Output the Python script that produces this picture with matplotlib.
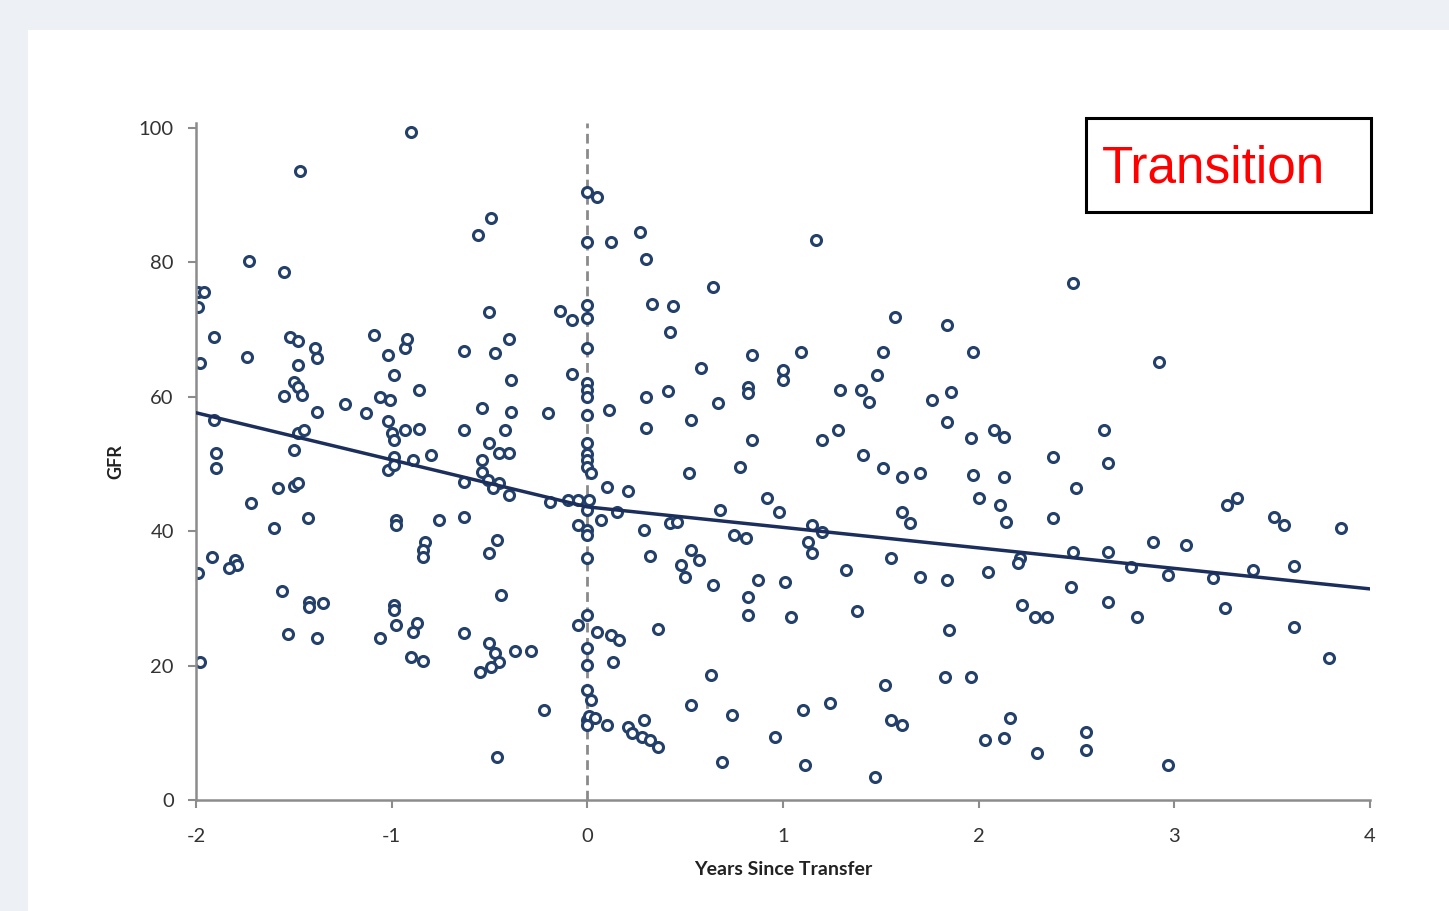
import matplotlib
matplotlib.use("Agg")
import matplotlib.pyplot as plt
from matplotlib.patches import Rectangle

# GFR readings vs years since transfer
years = [
    # before transfer, -2 .. -1
    -0.90, -1.47, -1.73, -1.55, -1.99, -1.96, -1.99, -1.91, -1.98, -1.74,
    -1.52, -1.48, -1.39, -1.38, -1.48, -1.50, -1.48, -1.46, -1.55, -1.38,
    -1.24, -1.13, -1.09, -1.02, -0.93, -0.92, -0.99, -1.06, -1.01, -0.86,
    -1.91, -1.48, -1.45, -1.02, -1.00, -0.99, -0.93, -0.86, -1.90, -1.90,
    -1.50, -1.58, -1.50, -1.48, -1.72, -1.43, -1.60, -1.92, -1.80, -1.79,
    -1.83, -1.99, -1.56, -1.42, -1.42, -1.35, -1.53, -1.38, -1.98, -0.99,
    -1.02, -0.99, -0.89, -0.80, -0.98, -0.98, -0.76, -0.83, -0.84, -0.84,
    -0.99, -0.99, -0.98, -0.87, -0.89, -1.06, -0.90, -0.84,
    # before transfer, -1 .. 0
    -0.49, -0.56, -0.50, -0.14, -0.08, -0.63, -0.47, -0.40, -0.08, -0.39,
    -0.20, -0.54, -0.39, -0.63, -0.42, -0.50, -0.54, -0.45, -0.40, -0.54,
    -0.51, -0.45, -0.48, -0.40, -0.63, -0.19, -0.10, -0.05, -0.05, -0.63,
    -0.46, -0.50, -0.44, -0.63, -0.50, -0.47, -0.45, -0.49, -0.55, -0.37,
    -0.29, -0.05, -0.22, -0.46,
    # at transfer
    0.00, 0.05, 0.00, 0.00, 0.00, 0.00, 0.00, 0.00, 0.00, 0.00,
    0.00, 0.00, 0.00, 0.00, 0.02, 0.01, 0.00, 0.00, 0.00, 0.00,
    0.00, 0.00, 0.00, 0.00, 0.02, 0.00, 0.01, 0.04, 0.00,
    # after transfer, 0 .. 1
    0.12, 0.27, 0.30, 0.64, 0.33, 0.44, 0.42, 0.84, 0.58, 0.82,
    0.82, 0.30, 0.41, 0.67, 0.53, 0.11, 0.30, 0.84, 0.10, 0.21,
    0.52, 0.78, 0.92, 0.07, 0.15, 0.29, 0.42, 0.46, 0.68, 0.75,
    0.81, 0.32, 0.53, 0.57, 0.48, 0.50, 0.64, 0.87, 0.82, 0.82,
    0.05, 0.12, 0.16, 0.13, 0.36, 0.63, 0.10, 0.21, 0.23, 0.29,
    0.28, 0.32, 0.36, 0.53, 0.74, 0.69, 0.98,
    # after transfer, 1 .. 2
    1.17, 1.57, 1.84, 1.09, 1.51, 1.97, 1.00, 1.00, 1.48, 1.29,
    1.40, 1.44, 1.76, 1.86, 1.84, 1.28, 1.20, 1.96, 1.41, 1.51,
    1.61, 1.70, 1.97, 1.15, 1.20, 1.13, 1.15, 1.61, 1.65, 2.00,
    1.55, 1.01, 1.32, 1.70, 1.84, 1.04, 1.38, 1.85, 1.83, 1.96,
    1.52, 1.24, 1.10, 1.55, 1.61, 0.96, 1.11, 1.47,
    # after transfer, 2 .. 4
    2.48, 2.08, 2.13, 2.13, 2.38, 2.50, 2.64, 2.66, 2.11, 2.14,
    2.38, 2.21, 2.20, 2.48, 2.66, 2.05, 2.47, 2.66, 2.22, 2.29,
    2.35, 2.16, 2.03, 2.13, 2.30, 2.55, 2.55, 2.92, 3.27, 3.32,
    3.51, 3.56, 3.85, 2.89, 3.06, 2.78, 2.97, 3.20, 3.40, 3.61,
    2.81, 3.26, 3.61, 3.79, 2.97,
]

gfr = [
    99.3, 93.5, 80.1, 78.6, 75.5, 75.6, 73.4, 68.9, 65.0, 65.9,
    68.8, 68.2, 67.3, 65.8, 64.7, 62.2, 61.5, 60.3, 60.1, 57.7,
    58.9, 57.6, 69.2, 66.2, 67.3, 68.5, 63.2, 60.0, 59.5, 61.0,
    56.5, 54.6, 55.1, 56.3, 54.6, 53.6, 55.1, 55.2, 51.6, 49.4,
    52.1, 46.4, 46.7, 47.2, 44.2, 42.0, 40.5, 36.2, 35.7, 35.0,
    34.5, 33.8, 31.1, 29.5, 28.7, 29.3, 24.7, 24.1, 20.5, 51.0,
    49.1, 49.9, 50.6, 51.3, 41.7, 40.9, 41.7, 38.4, 37.2, 36.2,
    29.0, 28.3, 26.0, 26.3, 25.0, 24.1, 21.3, 20.7,
    86.6, 84.1, 72.6, 72.8, 71.4, 66.8, 66.5, 68.6, 63.4, 62.4,
    57.6, 58.3, 57.7, 55.0, 55.1, 53.1, 50.6, 51.6, 51.6, 48.8,
    47.6, 47.2, 46.4, 45.4, 47.3, 44.3, 44.6, 44.6, 40.9, 42.1,
    38.7, 36.7, 30.5, 24.8, 23.4, 21.9, 20.5, 19.8, 19.0, 22.2,
    22.2, 26.0, 13.4, 6.4,
    90.5, 89.7, 83.0, 73.7, 71.7, 67.3, 62.0, 61.0, 60.0, 57.3,
    53.1, 51.5, 50.5, 49.6, 48.7, 44.6, 43.2, 40.2, 39.4, 36.0,
    27.5, 22.6, 20.1, 16.4, 14.9, 11.9, 12.5, 12.2, 11.2,
    83.0, 84.5, 80.4, 76.3, 73.8, 73.5, 69.6, 66.2, 64.3, 61.5,
    60.6, 60.0, 60.9, 59.1, 56.5, 58.0, 55.4, 53.6, 46.6, 46.0,
    48.6, 49.6, 44.9, 41.7, 42.9, 40.2, 41.2, 41.4, 43.2, 39.4,
    39.0, 36.3, 37.2, 35.7, 35.0, 33.2, 32.0, 32.7, 30.2, 27.5,
    25.0, 24.6, 23.8, 20.5, 25.4, 18.6, 11.2, 10.9, 10.0, 11.9,
    9.4, 8.9, 7.9, 14.1, 12.6, 5.7, 42.9,
    83.3, 71.9, 70.7, 66.7, 66.7, 66.7, 64.0, 62.5, 63.2, 61.0,
    61.0, 59.2, 59.5, 60.7, 56.2, 55.1, 53.6, 53.9, 51.3, 49.4,
    48.1, 48.7, 48.4, 40.9, 39.9, 38.4, 36.8, 42.9, 41.2, 44.9,
    36.0, 32.4, 34.2, 33.2, 32.7, 27.2, 28.1, 25.3, 18.3, 18.3,
    17.1, 14.4, 13.4, 11.9, 11.2, 9.4, 5.2, 3.4,
    76.9, 55.1, 54.0, 48.1, 51.0, 46.4, 55.1, 50.1, 43.9, 41.4,
    42.0, 36.0, 35.3, 36.9, 36.9, 33.9, 31.7, 29.5, 29.0, 27.2,
    27.2, 12.2, 8.9, 9.2, 7.0, 10.1, 7.4, 65.2, 43.9, 44.9,
    42.1, 40.9, 40.5, 38.4, 37.9, 34.7, 33.5, 33.0, 34.2, 34.8,
    27.2, 28.6, 25.7, 21.1, 5.2,
]

# piecewise trend line (pre- and post-transfer)
trend_years = [-2, 0, 4]
trend_gfr = [57.6, 43.6, 31.4]

x_ticks = [-2, -1, 0, 1, 2, 3, 4]
y_ticks = [0, 20, 40, 60, 80, 100]

W, H = 1449, 911
plt.rcParams["font.family"] = ["Lato", "DejaVu Sans"]
plt.rcParams["axes.unicode_minus"] = False

fig = plt.figure(figsize=(W / 100, H / 100), dpi=100)
fig.patch.set_facecolor("#edf1f6")

# white slide panel behind the chart
fig.patches.append(Rectangle((28 / W, 0), 1, 1 - 30 / H, transform=fig.transFigure,
                             facecolor="white", edgecolor="none", zorder=-10))

ax = fig.add_axes([196 / W, 1 - 800 / H, 1174 / W, 677 / H])
ax.set_facecolor("white")

ax.axvline(0, color="#8a8a8a", lw=2, dashes=(3.5, 2), zorder=1)
ax.plot(trend_years, trend_gfr, color="#1c2f5c", lw=2.5, zorder=3)
ax.scatter(years, gfr, s=52, facecolors="white", edgecolors="#23406b",
           linewidths=2.2, zorder=2)

ax.set_xlim(-2, 4)
ax.set_ylim(0, 100.7)
ax.set_xticks(x_ticks)
ax.set_yticks(y_ticks)

for side in ["top", "right"]:
    ax.spines[side].set_visible(False)
for side in ["left", "bottom"]:
    ax.spines[side].set_color("#8c8c8c")
    ax.spines[side].set_linewidth(1.8)

ax.tick_params(direction="out", length=6, width=1.5, color="#8c8c8c",
               labelsize=14.5, labelcolor="#333333")
ax.tick_params(axis="y", pad=10)
ax.tick_params(axis="x", pad=14)

ax.set_xlabel("Years Since Transfer", fontsize=14, fontweight="bold",
              color="#222222", labelpad=12)
ax.set_ylabel("GFR", fontsize=13, fontweight="bold", color="#222222",
              labelpad=10)

# "Transition" label box
fig.patches.append(Rectangle((1086 / W, 1 - 212 / H), 285 / W, 94 / H,
                             transform=fig.transFigure, facecolor="white",
                             edgecolor="black", lw=2.2, zorder=5))
fig.text(1102 / W, 1 - 169 / H, "Transition", color="#ff0000", fontsize=37,
         family="Liberation Sans", ha="left", va="center", zorder=6)

fig.savefig("out.png", dpi=100, facecolor=fig.get_facecolor())
